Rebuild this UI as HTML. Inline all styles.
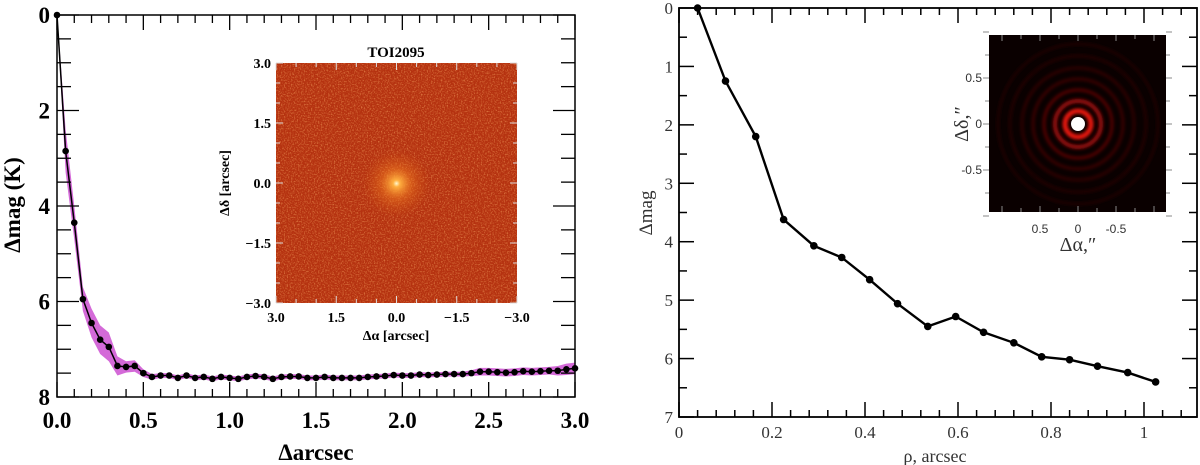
<!DOCTYPE html>
<html><head><meta charset="utf-8"><style>
html,body{margin:0;padding:0;background:#fff;width:1200px;height:465px;overflow:hidden}
svg{display:block}
</style></head><body>
<svg id="fig" width="1200" height="465" xmlns="http://www.w3.org/2000/svg">
<defs>
<filter id="noise" x="0" y="0" width="100%" height="100%">
<feTurbulence type="fractalNoise" baseFrequency="0.7" numOctaves="2" seed="3" result="t"/>
<feColorMatrix in="t" type="matrix" values="0 0 0 0 0.93  0 0 0 0 0.38  0 0 0 0 0.12  1.6 0 0 0 -0.75" result="c"/>
<feComposite in="c" in2="SourceGraphic" operator="in"/>
</filter>
<filter id="blur"><feGaussianBlur stdDeviation="1.6"/></filter>
<radialGradient id="glow"><stop offset="0" stop-color="#fff8d0"/><stop offset="0.1" stop-color="#ffb040"/><stop offset="0.45" stop-color="#f07a20" stop-opacity="0.5"/><stop offset="1" stop-color="#d05010" stop-opacity="0"/></radialGradient>
</defs>
<g id="left"></g>
<g id="right"></g>
</svg>
<script>
const NS="http://www.w3.org/2000/svg";
// Left chart data
const leftSep=[0,0.05,0.1,0.15,0.2,0.25,0.3,0.35,0.4,0.45,0.5,0.55,0.6,0.65,0.7,0.75,0.8,0.85,0.9,0.95,1.0,1.05,1.1,1.15,1.2,1.25,1.3,1.35,1.4,1.45,1.5,1.55,1.6,1.65,1.7,1.75,1.8,1.85,1.9,1.95,2.0,2.05,2.1,2.15,2.2,2.25,2.3,2.35,2.4,2.45,2.5,2.55,2.6,2.65,2.7,2.75,2.8,2.85,2.9,2.95,3.0];
const leftMag=[0,2.85,4.35,5.95,6.45,6.8,6.95,7.35,7.37,7.35,7.5,7.58,7.55,7.55,7.6,7.55,7.6,7.58,7.62,7.58,7.6,7.62,7.58,7.56,7.58,7.62,7.58,7.57,7.57,7.6,7.6,7.58,7.6,7.6,7.6,7.6,7.58,7.57,7.56,7.54,7.55,7.55,7.53,7.54,7.53,7.52,7.52,7.52,7.5,7.47,7.47,7.48,7.49,7.48,7.46,7.47,7.46,7.45,7.45,7.42,7.4];
const leftErr=[0.05,0.45,0.35,0.25,0.3,0.3,0.3,0.2,0.12,0.12,0.08,0.06,0.05,0.05,0.05,0.05,0.05,0.05,0.05,0.05,0.05,0.05,0.05,0.05,0.05,0.05,0.05,0.05,0.05,0.05,0.05,0.05,0.05,0.05,0.05,0.05,0.05,0.05,0.05,0.05,0.05,0.05,0.05,0.05,0.05,0.05,0.05,0.05,0.06,0.08,0.08,0.08,0.08,0.08,0.08,0.08,0.08,0.08,0.1,0.12,0.12];
const leftXTicks=["0.0","0.5","1.0","1.5","2.0","2.5","3.0"];
const leftYTicks=["0","2","4","6","8"];
const insetTicksL=["3.0","1.5","0.0","−1.5","−3.0"];
// Right chart data
const rightSep=[0.04,0.1,0.165,0.225,0.29,0.35,0.41,0.47,0.535,0.595,0.655,0.72,0.78,0.84,0.9,0.965,1.025];
const rightMag=[0,1.25,2.2,3.62,4.07,4.27,4.65,5.06,5.45,5.28,5.55,5.73,5.97,6.02,6.13,6.24,6.4];
const rightXTicks=["0","0.2","0.4","0.6","0.8","1"];
const rightYTicks=["0","1","2","3","4","5","6","7"];
const insetTicksR=["0.5","0","-0.5"];

function el(tag,attrs,parent,txt){const e=document.createElementNS(NS,tag);for(const k in attrs)e.setAttribute(k,attrs[k]);if(txt!==undefined)e.textContent=txt;parent.appendChild(e);return e;}

// ---------- LEFT ----------
(function(){
const g=document.getElementById('left');
const L=57,R=575,T=15,B=397;
const xs=v=>L+(v/3)*(R-L), ys=v=>T+(v/8)*(B-T);
const F='"Liberation Serif",serif';
let up=leftSep.map((s,i)=>xs(s)+','+ys(leftMag[i]-leftErr[i]));
let dn=leftSep.map((s,i)=>xs(s)+','+ys(leftMag[i]+leftErr[i])).reverse();
const band=el('polygon',{points:up.concat(dn).join(' '),fill:'#d46ad8'},g);


const line=el('polyline',{points:leftSep.map((s,i)=>xs(s)+','+ys(leftMag[i])).join(' '),fill:'none',stroke:'#000','stroke-width':1.5},g);


leftSep.forEach((s,i)=>{const c=el('circle',{cx:xs(s),cy:ys(leftMag[i]),r:3.3,fill:'#000'},g);

});
const fr=el('rect',{x:L,y:T,width:R-L,height:B-T,fill:'none',stroke:'#000','stroke-width':1.5},g);


for(let k=0;k<=30;k++){const v=k/10,x=xs(v),len=(k%5==0)?15:8;
el('line',{x1:x,x2:x,y1:B,y2:B-len,stroke:'#000','stroke-width':1.3},g);
el('line',{x1:x,x2:x,y1:T,y2:T+len,stroke:'#000','stroke-width':1.3},g);}
leftXTicks.forEach(t=>{const e=el('text',{x:xs(parseFloat(t)),y:428,'font-family':F,'font-weight':'bold','font-size':23,'text-anchor':'middle'},g,t);

});
for(let k=0;k<=16;k++){const v=k/2,y=ys(v),len=(k%4==0)?22:14;
el('line',{x1:L,x2:L+len,y1:y,y2:y,stroke:'#000','stroke-width':1.3},g);
el('line',{x1:R,x2:R-len,y1:y,y2:y,stroke:'#000','stroke-width':1.3},g);}
leftYTicks.forEach(t=>{const e=el('text',{x:50,y:ys(parseFloat(t))+8,'font-family':F,'font-weight':'bold','font-size':23,'text-anchor':'end'},g,t);

});
const xt=el('text',{x:316,y:460,'font-family':F,'font-weight':'bold','font-size':23,'text-anchor':'middle'},g,'Δarcsec');


const yt=el('text',{x:0,y:0,transform:'translate(20,205) rotate(-90)','font-family':F,'font-weight':'bold','font-size':23,'text-anchor':'middle'},g,'Δmag (K)');


const IL=276,IR=517,IT=63,IB=303;
const ig=el('g',{},g);


el('rect',{x:IL,y:IT,width:IR-IL,height:IB-IT,fill:'#b53210'},ig);
el('rect',{x:IL,y:IT,width:IR-IL,height:IB-IT,fill:'#fff',filter:'url(#noise)'},ig);
el('circle',{cx:(IL+IR)/2,cy:(IT+IB)/2+0.5,r:34,fill:'url(#glow)'},ig);
const ix=v=>IL+(3-v)/6*(IR-IL), iy=v=>IT+(3-v)/6*(IB-IT);
for(let k=-6;k<=6;k++){const v=k/2,len=(k%3==0)?7:4;
el('line',{x1:ix(v),x2:ix(v),y1:IB,y2:IB-len,stroke:'#ddd','stroke-width':1},ig);
el('line',{x1:ix(v),x2:ix(v),y1:IT,y2:IT+len,stroke:'#ddd','stroke-width':1},ig);
el('line',{x1:IL,x2:IL+len,y1:iy(v),y2:iy(v),stroke:'#ddd','stroke-width':1},ig);
el('line',{x1:IR,x2:IR-len,y1:iy(v),y2:iy(v),stroke:'#ddd','stroke-width':1},ig);}
insetTicksL.forEach(t=>{const v=parseFloat(t.replace('−','-'));
const a=el('text',{x:ix(v),y:IB+19,'font-family':F,'font-weight':'bold','font-size':14,'text-anchor':'middle'},g,t);


const b=el('text',{x:IL-5,y:iy(v)+5,'font-family':F,'font-weight':'bold','font-size':14,'text-anchor':'end'},g,t);

});
const tt=el('text',{x:396,y:57,'font-family':F,'font-weight':'bold','font-size':15,'text-anchor':'middle'},g,'TOI2095');


const ixt=el('text',{x:396,y:340,'font-family':F,'font-weight':'bold','font-size':14,'text-anchor':'middle'},g,'Δα [arcsec]');


const iyt=el('text',{x:0,y:0,transform:'translate(229,183) rotate(-90)','font-family':F,'font-weight':'bold','font-size':14,'text-anchor':'middle'},g,'Δδ [arcsec]');


})();

// ---------- RIGHT ----------
(function(){
const g=document.getElementById('right');
const L=679,R=1197,T=8,B=417;
const xs=v=>L+v*465, ys=v=>T+(v/7)*(B-T);
const F='"Liberation Serif",serif';
const IL=989,IR=1166,IT=35,IB=212,cx=1078,cy=124;
const ig=el('g',{},g);


el('rect',{x:IL,y:IT,width:IR-IL,height:IB-IT,fill:'#0a0000'},ig);
const rg=el('g',{filter:'url(#blur)'},ig);
[[80,'#1e0000',3],[68,'#240000',3],[56,'#2e0101',3],[45,'#3a0303',3],[34,'#560505',3],[23,'#9a0d0d',4],[13,'#e8180f',5]].forEach(r=>{
el('circle',{cx:cx,cy:cy,r:r[0],fill:'none',stroke:r[1],'stroke-width':r[2]},rg);});
el('circle',{cx:cx,cy:cy,r:7,fill:'#fff'},ig);
const ix=v=>cx-v*76, iy=v=>cy-v*92;
for(let k=-4;k<=4;k++){const v=k/4,len=(k%2==0)?6:4;
el('line',{x1:ix(v),x2:ix(v),y1:IB,y2:IB-len,stroke:'#888'},ig);
el('line',{x1:ix(v),x2:ix(v),y1:IT,y2:IT+len,stroke:'#888'},ig);
el('line',{x1:IL,x2:IL-len,y1:iy(v),y2:iy(v),stroke:'#888'},ig);
el('line',{x1:IR,x2:IR+len,y1:iy(v),y2:iy(v),stroke:'#888'},ig);}
insetTicksR.forEach(t=>{const v=parseFloat(t);
const a=el('text',{x:ix(v),y:IB+21,'font-family':'"Liberation Sans",sans-serif','font-size':12,'text-anchor':'middle','fill':'#333'},g,t);


const b=el('text',{x:IL-7,y:iy(v)+4,'font-family':'"Liberation Sans",sans-serif','font-size':12,'text-anchor':'end','fill':'#333'},g,t);

});
const ixt=el('text',{x:1078,y:251,'font-family':F,'font-size':20,'text-anchor':'middle','fill':'#333'},g,'Δα,″');


const iyt=el('text',{x:0,y:0,transform:'translate(968,124) rotate(-90)','font-family':F,'font-size':20,'text-anchor':'middle','fill':'#333'},g,'Δδ,″');


const line=el('polyline',{points:rightSep.map((s,i)=>xs(s)+','+ys(rightMag[i])).join(' '),fill:'none',stroke:'#000','stroke-width':2.4},g);


rightSep.forEach((s,i)=>{const c=el('circle',{cx:xs(s),cy:ys(rightMag[i]),r:3.8,fill:'#000'},g);

});
const fr=el('rect',{x:L,y:T,width:R-L,height:B-T,fill:'none',stroke:'#000','stroke-width':1.8},g);


for(let k=0;k<=27;k++){const v=k*0.04,x=xs(v);if(x>R)break;const len=(k%5==0)?15:7;
el('line',{x1:x,x2:x,y1:B,y2:B-len,stroke:'#000','stroke-width':1.5},g);
el('line',{x1:x,x2:x,y1:T,y2:T+len,stroke:'#000','stroke-width':1.5},g);}
for(let k=0;k<=14;k++){const y=ys(k/2),len=(k%2==0)?15:8;
el('line',{x1:L,x2:L+len,y1:y,y2:y,stroke:'#000','stroke-width':1.5},g);
el('line',{x1:R,x2:R-len,y1:y,y2:y,stroke:'#000','stroke-width':1.5},g);}
rightXTicks.forEach(t=>{const e=el('text',{x:xs(parseFloat(t)),y:438,'font-family':F,'font-size':17,'text-anchor':'middle','fill':'#333'},g,t);

});
rightYTicks.forEach(t=>{const e=el('text',{x:673,y:ys(parseFloat(t))+6,'font-family':F,'font-size':17,'text-anchor':'end','fill':'#333'},g,t);

});
const xt=el('text',{x:935,y:462,'font-family':F,'font-size':18,'text-anchor':'middle','fill':'#333'},g,'ρ, arcsec');


const yt=el('text',{x:0,y:0,transform:'translate(652,213) rotate(-90)','font-family':F,'font-size':19,'text-anchor':'middle','fill':'#333'},g,'Δmag');


})();
</script>
</body></html>
